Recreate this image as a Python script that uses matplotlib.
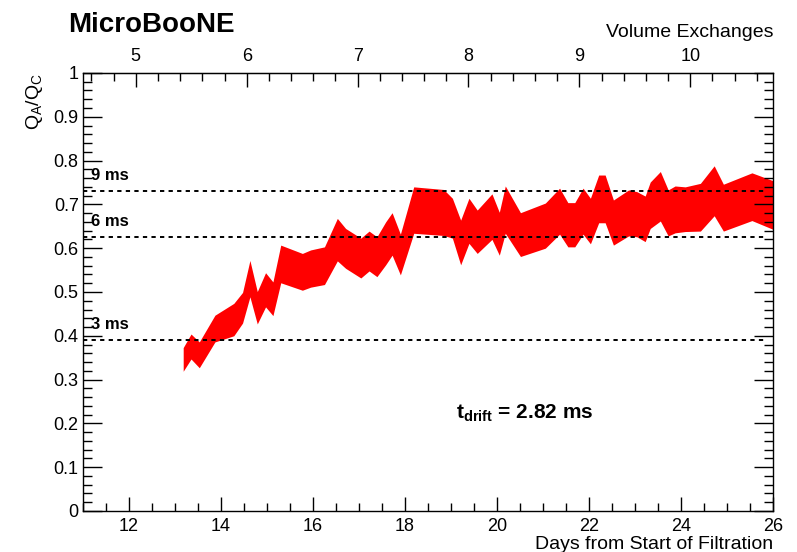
import matplotlib as mpl
import matplotlib.pyplot as plt
from matplotlib.ticker import MultipleLocator

mpl.use("Agg")

plt.rcParams["font.family"] = ["Liberation Sans", "DejaVu Sans"]
plt.rcParams["mathtext.fontset"] = "custom"
plt.rcParams["mathtext.rm"] = "Liberation Sans"
plt.rcParams["mathtext.it"] = "Liberation Sans:italic"
plt.rcParams["mathtext.bf"] = "Liberation Sans:bold"

# band: day, upper and lower edge of Q_A/Q_C
days = [13.18, 13.35, 13.53, 13.87, 14.28, 14.47, 14.63, 14.79, 14.97, 15.13,
        15.30, 15.77, 15.95, 16.25, 16.53, 16.71, 17.04, 17.22, 17.39, 17.58,
        17.72, 17.90, 18.19, 18.84, 19.03, 19.21, 19.39, 19.57, 19.89, 20.05,
        20.18, 20.51, 21.05, 21.36, 21.54, 21.69, 21.87, 22.03, 22.21, 22.35,
        22.53, 22.86, 23.04, 23.22, 23.33, 23.55, 23.72, 23.87, 24.09, 24.42,
        24.72, 24.92, 25.54, 26.00]
upper = [0.373, 0.404, 0.386, 0.447, 0.474, 0.499, 0.572, 0.501, 0.544, 0.523,
         0.607, 0.588, 0.596, 0.603, 0.668, 0.645, 0.623, 0.639, 0.626, 0.660,
         0.681, 0.632, 0.740, 0.734, 0.714, 0.664, 0.714, 0.687, 0.724, 0.682,
         0.742, 0.681, 0.703, 0.737, 0.704, 0.704, 0.737, 0.714, 0.767, 0.767,
         0.710, 0.733, 0.729, 0.719, 0.751, 0.775, 0.733, 0.742, 0.740, 0.748,
         0.788, 0.746, 0.772, 0.754]
lower = [0.319, 0.347, 0.327, 0.386, 0.400, 0.429, 0.489, 0.427, 0.466, 0.446,
         0.521, 0.504, 0.511, 0.517, 0.571, 0.554, 0.532, 0.548, 0.535, 0.562,
         0.584, 0.539, 0.634, 0.629, 0.623, 0.562, 0.611, 0.588, 0.620, 0.584,
         0.634, 0.581, 0.600, 0.632, 0.603, 0.603, 0.632, 0.610, 0.658, 0.658,
         0.607, 0.628, 0.626, 0.615, 0.645, 0.662, 0.628, 0.635, 0.638, 0.639,
         0.674, 0.639, 0.663, 0.643]

# reference lifetimes
ref_labels = ["3 ms", "6 ms", "9 ms"]
ref_values = [0.391, 0.625, 0.731]

# day -> volume exchanges
EXCH_DAY0 = 12.15
EXCH_AT_DAY0 = 5.0
DAYS_PER_EXCH = 2.41

fig = plt.figure(figsize=(7.97, 5.52), dpi=100)
ax = fig.add_axes([0.104, 0.0743, 0.866, 0.7935])

ax.fill_between(days, lower, upper, color="#ff0000", linewidth=0)

for lab, v in zip(ref_labels, ref_values):
    ax.axhline(v, xmin=0, xmax=0.99, color="black", linestyle=(0, (2.2, 2.2)),
               linewidth=1.4)
    ax.text(11.17, v + 0.018, lab, fontsize=12, fontweight="bold",
            ha="left", va="bottom")

ax.text(19.1, 0.224, r"$\mathbf{t_{drift}}$" + " = 2.82 ms", fontsize=15,
        fontweight="bold", ha="left", va="center")

ax.set_xlim(11, 26)
ax.set_ylim(0, 1)
ax.xaxis.set_major_locator(MultipleLocator(2))
ax.xaxis.set_minor_locator(MultipleLocator(0.5))
ax.yaxis.set_major_locator(MultipleLocator(0.1))
ax.yaxis.set_minor_locator(MultipleLocator(0.02))
ax.set_yticks([0, 0.1, 0.2, 0.3, 0.4, 0.5, 0.6, 0.7, 0.8, 0.9, 1.0],
              ["0", "0.1", "0.2", "0.3", "0.4", "0.5", "0.6", "0.7", "0.8",
               "0.9", "1"])

ax.tick_params(axis="x", which="both", direction="in", top=False,
               labelsize=13, pad=5)
ax.tick_params(axis="x", which="major", length=10, width=1)
ax.tick_params(axis="x", which="minor", length=5.5, width=1)
ax.tick_params(axis="y", which="both", direction="in", right=True,
               labelsize=13, pad=3)
ax.tick_params(axis="y", which="major", length=13.5, width=1)
ax.tick_params(axis="y", which="minor", length=6.7, width=1)
for sp in ax.spines.values():
    sp.set_linewidth(1)

ax.set_xlabel("Days from Start of Filtration", fontsize=14, loc="right",
              labelpad=1)
ax.set_ylabel(r"Q$_{\mathregular{A}}$/Q$_{\mathregular{C}}$", fontsize=14,
              loc="top", labelpad=6)

sec = ax.secondary_xaxis(
    "top",
    functions=(lambda d: (d - EXCH_DAY0) / DAYS_PER_EXCH + EXCH_AT_DAY0,
               lambda e: (e - EXCH_AT_DAY0) * DAYS_PER_EXCH + EXCH_DAY0),
)
sec.set_xticks([5, 6, 7, 8, 9, 10])
sec.xaxis.set_minor_locator(MultipleLocator(0.2))
sec.tick_params(which="both", direction="in", labelsize=13, pad=6)
sec.tick_params(which="major", length=10, width=1)
sec.tick_params(which="minor", length=5.5, width=1)
sec.set_xlabel("Volume Exchanges", fontsize=14, loc="right", labelpad=8)

fig.text(68 / 797, 1 - 25 / 552, "MicroBooNE", fontsize=20, fontweight="bold",
         ha="left", va="center")

fig.savefig("out.png", dpi=100)
